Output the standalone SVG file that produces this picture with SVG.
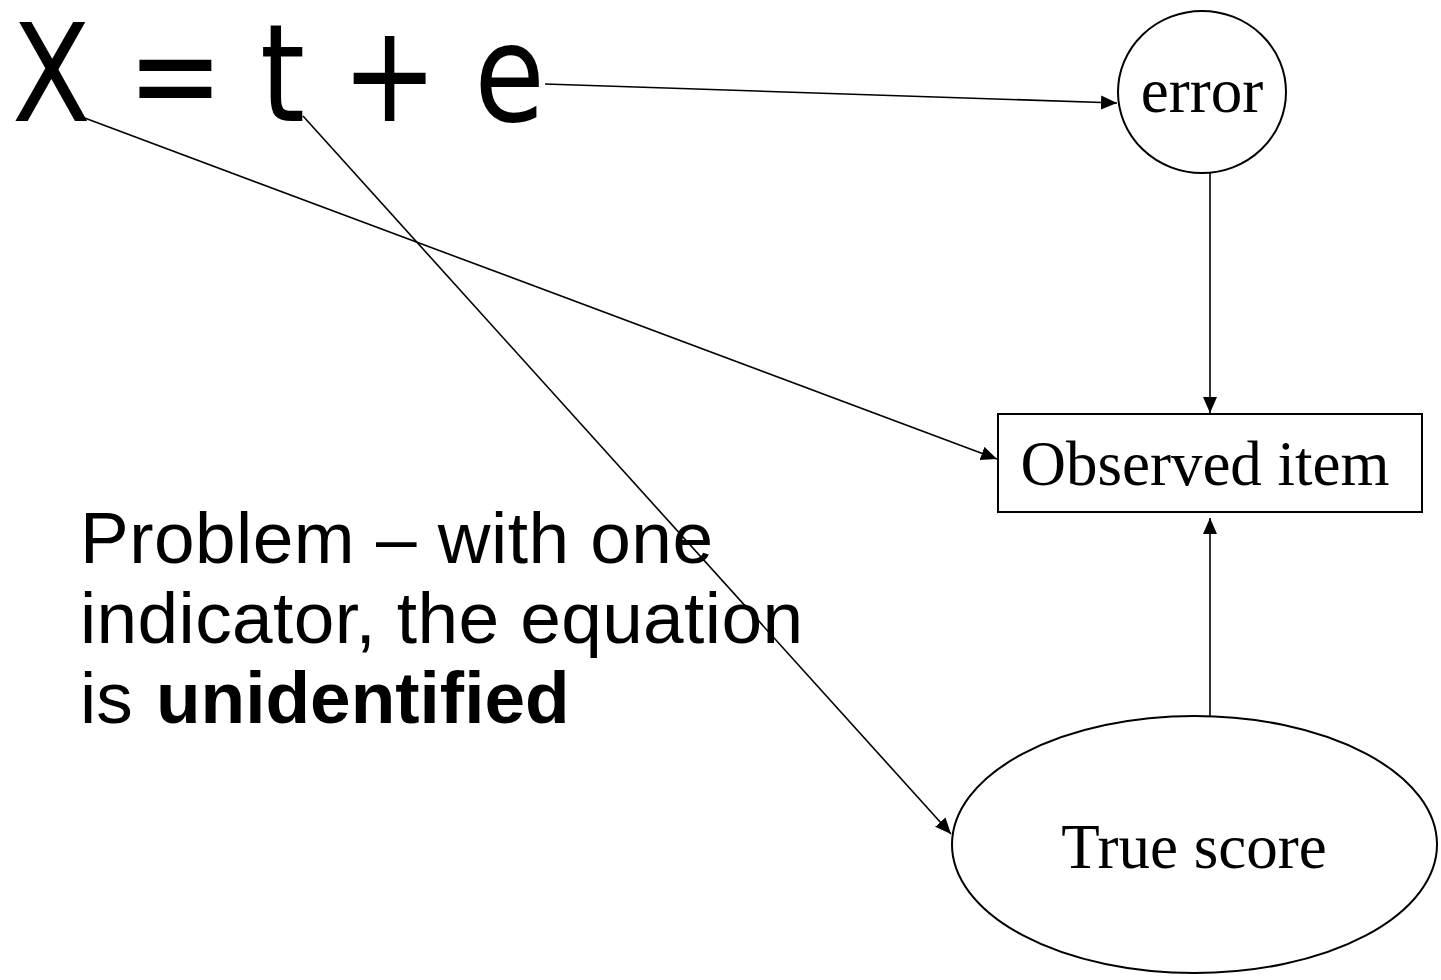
<svg xmlns="http://www.w3.org/2000/svg" width="1441" height="980" viewBox="0 0 1441 980">
<style>
.shape{fill:#fff;stroke:#000;stroke-width:2}
.conn{stroke:#000;stroke-width:1.6;fill:none}
.serif{font-family:"Liberation Serif","Times New Roman",serif;font-size:63px;fill:#000}
.sans{font-family:"Liberation Sans",Arial,sans-serif;font-size:73px;fill:#000}
.eq{font-family:"DejaVu Sans",sans-serif;font-size:136px;fill:#000}
</style>
<defs>
<marker id="arr" markerUnits="userSpaceOnUse" markerWidth="18" markerHeight="16" refX="16" refY="7" orient="auto">
<path d="M0,0 L16,7 L0,14 z" fill="#000"/>
</marker>
</defs>
<rect width="1441" height="980" fill="#fff"/>
<g id="equation">
<text class="eq" x="12" y="121" textLength="533" lengthAdjust="spacingAndGlyphs">X = t + e</text>
</g>
<g id="note">
<text class="sans" x="80" y="563" textLength="633" lengthAdjust="spacing">Problem – with one</text>
<text class="sans" x="80" y="643" textLength="723" lengthAdjust="spacing">indicator, the equation</text>
<text class="sans" x="80" y="723" word-spacing="3">is <tspan font-weight="bold">unidentified</tspan></text>
</g>
<g id="error">
<ellipse class="shape" cx="1202" cy="92" rx="84" ry="81"/>
<text class="serif" x="1202" y="112" text-anchor="middle">error</text>
</g>
<g id="observed">
<rect class="shape" x="998" y="414" width="424" height="98"/>
<text class="serif" x="1205" y="485" text-anchor="middle">Observed item</text>
</g>
<g id="truescore">
<ellipse class="shape" cx="1194.5" cy="844.5" rx="242.5" ry="128.5"/>
<text class="serif" x="1194" y="868" text-anchor="middle">True score</text>
</g>
<g id="connectors">
<line class="conn" x1="545" y1="84" x2="1117" y2="103" marker-end="url(#arr)"/>
<line class="conn" x1="74" y1="114" x2="997" y2="459" marker-end="url(#arr)"/>
<line class="conn" x1="303" y1="116" x2="951" y2="834" marker-end="url(#arr)"/>
<line class="conn" x1="1210" y1="173" x2="1210" y2="413" marker-end="url(#arr)"/>
<line class="conn" x1="1210" y1="716" x2="1210" y2="518" marker-end="url(#arr)"/>
</g>
</svg>
